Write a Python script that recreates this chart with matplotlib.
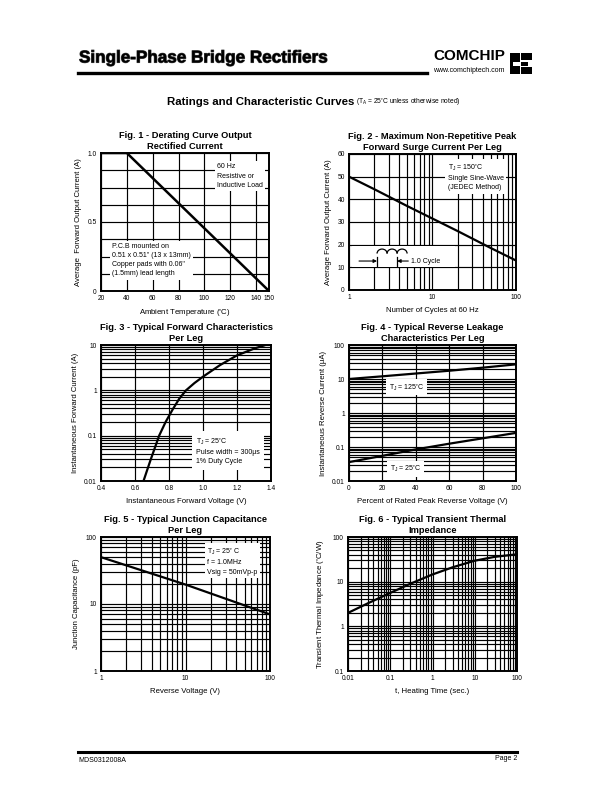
import matplotlib
matplotlib.use('Agg')
import matplotlib.pyplot as plt
from matplotlib.ticker import FixedLocator, NullFormatter, LogLocator
from matplotlib.patches import Arc, Rectangle
import matplotlib.patheffects as pe

plt.rcParams['font.family'] = ['Liberation Sans', 'DejaVu Sans']
plt.rcParams['mathtext.default'] = 'regular'

# ---- data ----
fig1_temp = [20, 40, 150]
fig1_curr = [1.0, 1.0, 0.0]

fig2_cycles = [1, 2, 5, 10, 20, 50, 100]
fig2_curr = [50, 44.5, 37, 31.5, 26, 18.5, 13]

fig3_volt = [0.65, 0.69, 0.742, 0.78, 0.82, 0.86, 0.9, 0.95, 1.0, 1.1, 1.2, 1.3, 1.36]
fig3_curr = [0.01, 0.028, 0.1, 0.2, 0.37, 0.65, 1.0, 1.45, 2.0, 3.6, 5.9, 8.3, 9.8]

fig4_pct = [0, 20, 40, 60, 80, 100]
fig4_hot = [10, 12, 14.5, 17.5, 21.5, 27]
fig4_cold = [0.036, 0.055, 0.085, 0.125, 0.18, 0.26]

fig5_volt = [1, 10, 100]
fig5_cap = [50, 19.5, 7]

fig6_time = [0.01, 0.03, 0.1, 0.3, 1, 3, 10, 30, 100]
fig6_imp = [2, 3.3, 5.6, 9, 14.5, 21, 29.5, 36, 41]

W, H = 612, 792
fig = plt.figure(figsize=(6.12, 7.92), dpi=100)


def add_ax(x0, y0, x1, y1):
    # pixel box -> figure fraction
    return fig.add_axes([x0 / W, 1 - y1 / H, (x1 - x0) / W, (y1 - y0) / H])


GRID = dict(color='black', linewidth=0.85)
TICKFS = 4.8
LABFS = 5.6
TITFS = 6.7
BOXFS = 5.0
BOX = dict(facecolor='white', edgecolor='none', pad=1.5)


def style(ax, title, xlabel, ylabel):
    ax.set_axisbelow(True)
    for s in ax.spines.values():
        s.set_linewidth(1.4)
    ax.tick_params(which='both', length=0, labelsize=TICKFS, pad=3)
    t = ax.set_title(title, fontsize=TITFS, fontweight='bold', pad=3)
    t.set_linespacing(1.3)
    ax.set_xlabel(xlabel, fontsize=LABFS, labelpad=4)
    ax.set_ylabel(ylabel, fontsize=LABFS, labelpad=4)


def log_axis(axis, ticks, labels):
    axis.set_major_locator(FixedLocator(ticks))
    axis.set_minor_locator(LogLocator(base=10, subs=range(2, 10)))
    axis.set_minor_formatter(NullFormatter())
    axis.set_ticklabels(labels)


# ---------------- Fig. 1 ----------------
ax1 = add_ax(101, 153, 269, 291)
ax1.plot(fig1_temp, fig1_curr, color='black', linewidth=1.8, solid_capstyle='butt')
ax1.set_xlim(20, 150)
ax1.set_ylim(0, 1.0)
ax1.set_xticks([20, 40, 60, 80, 100, 120, 140, 150])
ax1.set_yticks([0, 0.5, 1.0])
ax1.set_yticklabels(['0', '0.5', '1.0'])
ax1.yaxis.set_minor_locator(FixedLocator([0.125, 0.25, 0.375, 0.625, 0.75, 0.875]))
ax1.grid(True, which='both', **GRID)
style(ax1, 'Fig. 1 - Derating Curve Output\nRectified Current',
      'Ambient Temperature ($^{\\circ}$C)', 'Average  Forward Output Current (A)')
ax1.text(0.69, 0.925, '60 Hz\nResistive or\nInductive Load', transform=ax1.transAxes,
         fontsize=BOXFS, va='top', ha='left', linespacing=1.45, bbox=BOX, zorder=3)
ax1.text(0.065, 0.35, 'P.C.B mounted on\n0.51 x 0.51" (13 x 13mm)\nCopper pads with 0.06"\n(1.5mm) lead length',
         transform=ax1.transAxes, fontsize=BOXFS, va='top', ha='left', linespacing=1.45,
         bbox=BOX, zorder=3)

# ---------------- Fig. 2 ----------------
ax2 = add_ax(349, 154, 516, 290)
ax2.plot(fig2_cycles, fig2_curr, color='black', linewidth=1.6)
ax2.set_xscale('log')
ax2.set_xlim(1, 100)
ax2.set_ylim(0, 60)
log_axis(ax2.xaxis, [1, 10, 100], ['1', '10', '100'])
ax2.set_yticks(range(0, 61, 10))
ax2.grid(True, which='both', **GRID)
style(ax2, 'Fig. 2 - Maximum Non-Repetitive Peak\nForward Surge Current Per Leg',
      'Number of Cycles at 60 Hz', 'Average Forward Output Current (A)')
ax2.text(0.59, 0.94, 'T$_J$ = 150$^{\\circ}$C\nSingle Sine-Wave\n(JEDEC Method)',
         transform=ax2.transAxes, fontsize=BOXFS, va='top', ha='left', linespacing=1.45,
         bbox=BOX, zorder=3)
# 1.0 cycle symbol
ax2.add_patch(Rectangle((0.015, 0.172), 0.62, 0.155, transform=ax2.transAxes,
                        facecolor='white', edgecolor='none', zorder=1))
for cx in (0.198, 0.258, 0.318):
    ax2.add_patch(Arc((cx, 0.268), 0.06, 0.066, theta1=0, theta2=180,
                      transform=ax2.transAxes, color='black', linewidth=0.9, zorder=3))
for bx in (0.168, 0.288):
    ax2.plot([bx, bx], [0.178, 0.245], transform=ax2.transAxes, color='black',
             linewidth=0.9, zorder=3)
ax2.annotate('', xy=(0.168, 0.213), xytext=(0.06, 0.213), xycoords='axes fraction',
             arrowprops=dict(arrowstyle='-|>', color='black', lw=0.8,
                             mutation_scale=5, shrinkA=0, shrinkB=0))
ax2.annotate('', xy=(0.288, 0.213), xytext=(0.355, 0.213), xycoords='axes fraction',
             arrowprops=dict(arrowstyle='-|>', color='black', lw=0.8,
                             mutation_scale=5, shrinkA=0, shrinkB=0))
ax2.text(0.37, 0.213, '1.0 Cycle', transform=ax2.transAxes, fontsize=BOXFS,
         va='center', ha='left', zorder=3)

# ---------------- Fig. 3 ----------------
ax3 = add_ax(101, 345, 271, 481)
ax3.plot(fig3_volt, fig3_curr, color='black', linewidth=1.6)
ax3.set_yscale('log')
ax3.set_xlim(0.4, 1.4)
ax3.set_ylim(0.01, 10)
ax3.set_xticks([0.4, 0.6, 0.8, 1.0, 1.2, 1.4])
ax3.set_xticklabels(['0.4', '0.6', '0.8', '1.0', '1.2', '1.4'])
log_axis(ax3.yaxis, [0.01, 0.1, 1, 10], ['0.01', '0.1', '1', '10'])
ax3.grid(True, which='both', **GRID)
style(ax3, 'Fig. 3 - Typical Forward Characteristics\nPer Leg',
      'Instantaneous Forward Voltage (V)', 'Instantaneous Forward Current (A)')
ax3.text(0.56, 0.33, 'T$_J$ = 25$^{\\circ}$C\nPulse width = 300\u03bcs\n1% Duty Cycle',
         transform=ax3.transAxes, fontsize=BOXFS, va='top', ha='left', linespacing=1.45,
         bbox=dict(facecolor='white', edgecolor='none', pad=3), zorder=3)

# ---------------- Fig. 4 ----------------
ax4 = add_ax(349, 345, 516, 481)
ax4.plot(fig4_pct, fig4_hot, color='black', linewidth=1.6)
ax4.plot(fig4_pct, fig4_cold, color='black', linewidth=1.6)
ax4.set_yscale('log')
ax4.set_xlim(0, 100)
ax4.set_ylim(0.01, 100)
ax4.set_xticks([0, 20, 40, 60, 80, 100])
log_axis(ax4.yaxis, [0.01, 0.1, 1, 10, 100], ['0.01', '0.1', '1', '10', '100'])
ax4.grid(True, which='both', **GRID)
style(ax4, 'Fig. 4 - Typical Reverse Leakage\nCharacteristics Per Leg',
      'Percent of Rated Peak Reverse Voltage (V)', 'Instantaneous Reverse Current (\u03bcA)')
ax4.text(0.24, 0.69, 'T$_J$ = 125$^{\\circ}$C', transform=ax4.transAxes, fontsize=BOXFS,
         va='center', ha='left', bbox=dict(facecolor='white', edgecolor='none', pad=2), zorder=3)
ax4.text(0.245, 0.09, 'T$_J$ = 25$^{\\circ}$C', transform=ax4.transAxes, fontsize=BOXFS,
         va='center', ha='left', bbox=dict(facecolor='white', edgecolor='none', pad=2), zorder=3)

# ---------------- Fig. 5 ----------------
ax5 = add_ax(101, 537, 270, 671)
ax5.plot(fig5_volt, fig5_cap, color='black', linewidth=1.6)
ax5.set_xscale('log')
ax5.set_yscale('log')
ax5.set_xlim(1, 100)
ax5.set_ylim(1, 100)
log_axis(ax5.xaxis, [1, 10, 100], ['1', '10', '100'])
log_axis(ax5.yaxis, [1, 10, 100], ['1', '10', '100'])
ax5.grid(True, which='both', **GRID)
style(ax5, 'Fig. 5 - Typical Junction Capacitance\nPer Leg',
      'Reverse Voltage (V)', 'Junction Capacitance (pF)')
ax5.text(0.63, 0.93, 'T$_J$ = 25$^{\\circ}$ C\nf = 1.0MHz\nVsig = 50mVp-p',
         transform=ax5.transAxes, fontsize=BOXFS, va='top', ha='left', linespacing=1.45,
         bbox=BOX, zorder=3)

# ---------------- Fig. 6 ----------------
ax6 = add_ax(348, 537, 517, 671)
ax6.plot(fig6_time, fig6_imp, color='black', linewidth=1.6)
ax6.set_xscale('log')
ax6.set_yscale('log')
ax6.set_xlim(0.01, 100)
ax6.set_ylim(0.1, 100)
log_axis(ax6.xaxis, [0.01, 0.1, 1, 10, 100], ['0.01', '0.1', '1', '10', '100'])
log_axis(ax6.yaxis, [0.1, 1, 10, 100], ['0.1', '1', '10', '100'])
ax6.grid(True, which='both', **GRID)
style(ax6, 'Fig. 6 - Typical Transient Thermal\nImpedance',
      't, Heating Time (sec.)', 'Transient Thermal Impedance ($^{\\circ}$C/W)')

# ---------------- page header / footer ----------------
fig.text(79 / W, 1 - 58 / H, 'Single-Phase Bridge Rectifiers', fontsize=12.3,
         fontweight='bold', va='center', ha='left',
         path_effects=[pe.withStroke(linewidth=0.8, foreground='#444444')])
fig.add_artist(plt.Line2D([78 / W, 427 / W], [1 - 73 / H, 1 - 73 / H],
                          color='black', linewidth=2.4))
fig.text(469 / W, 1 - 56 / H, 'COMCHIP', fontsize=11, fontweight='bold',
         va='center', ha='center')
fig.text(469 / W, 1 - 70 / H, 'www.comchiptech.com', fontsize=5.0,
         va='center', ha='center')
# logo blocks
for (x0, y0, x1, y1) in [(510, 53, 520, 74), (521, 53, 532, 60), (521, 62, 528, 66),
                         (521, 67, 532, 74)]:
    fig.add_artist(Rectangle((x0 / W, 1 - y1 / H), (x1 - x0) / W, (y1 - y0) / H,
                             transform=fig.transFigure, facecolor='black',
                             edgecolor='none'))
fig.add_artist(Rectangle((513 / W, 1 - 66 / H), 7 / W, 4 / H, transform=fig.transFigure,
                         facecolor='white', edgecolor='none'))

fig.text(354 / W, 1 - 102 / H, 'Ratings and Characteristic Curves', fontsize=8.2,
         fontweight='bold', va='center', ha='right')
fig.text(356 / W, 1 - 102.5 / H, '(T$_A$ = 25$^{\\circ}$C unless otherwise noted)',
         fontsize=4.8, va='center', ha='left')

fig.add_artist(plt.Line2D([78 / W, 517 / W], [1 - 751.5 / H, 1 - 751.5 / H],
                          color='black', linewidth=2.2))
fig.text(78 / W, 1 - 760 / H, 'MDS0312008A', fontsize=5, va='center', ha='left')
fig.text(517 / W, 1 - 759 / H, 'Page 2', fontsize=5, va='center', ha='right')

fig.savefig('out.png', dpi=100)
